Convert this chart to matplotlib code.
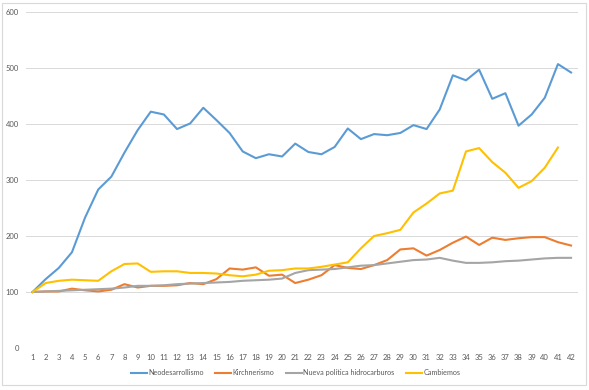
import matplotlib
matplotlib.use("Agg")
import matplotlib.pyplot as plt
from matplotlib.patches import Rectangle

periods = list(range(1, 43))

neodesarrollismo = [100, 123, 143, 171, 233, 283, 306, 349, 389, 422,
                    417, 391, 401, 429, 407, 384, 351, 339, 346, 342,
                    365, 350, 346, 359, 392, 373, 382, 380, 384, 398,
                    391, 426, 487, 478, 497, 445, 455, 397, 417, 447,
                    507, 492]
kirchnerismo = [100, 101, 101, 106, 103, 101, 104, 114, 108, 111,
                111, 112, 116, 114, 123, 142, 140, 144, 129, 131,
                116, 122, 130, 148, 143, 141, 148, 157, 176, 178,
                165, 175, 188, 199, 184, 197, 193, 196, 198, 198,
                189, 183]
hidrocarburos = [100, 101, 102, 103, 104, 105, 106, 108, 111, 111,
                 112, 114, 115, 116, 117, 118, 120, 121, 122, 124,
                 134, 139, 140, 141, 144, 147, 148, 151, 154, 157,
                 158, 161, 156, 152, 152, 153, 155, 156, 158, 160,
                 161, 161]
cambiemos = [100, 116, 120, 122, 121, 120, 137, 150, 151, 136,
             137, 137, 134, 134, 133, 130, 128, 131, 138, 139,
             142, 142, 145, 149, 153, 178, 200, 205, 211, 242,
             258, 276, 281, 351, 357, 332, 313, 286, 298, 322,
             358]

series_names = ["Neodesarrollismo", "Kirchnerismo",
                "Nueva política hidrocarburos", "Cambiemos"]
colors = ["#5B9BD5", "#ED7D31", "#A5A5A5", "#FFC000"]
y_ticks = [0, 100, 200, 300, 400, 500, 600]

plt.rcParams["font.family"] = ["Lato", "DejaVu Sans"]

fig = plt.figure(figsize=(5.89, 3.90), dpi=100)
ax = fig.add_axes([0.0441, 0.1077, 0.9366, 0.8615])

all_series = [neodesarrollismo, kirchnerismo, hidrocarburos, cambiemos]
for name, values, color in zip(series_names, all_series, colors):
    ax.plot(periods[:len(values)], values, color=color, lw=1.5,
            label=name, solid_joinstyle="round")

ax.set_xlim(0.5, 42.5)
ax.set_ylim(0, 600)
ax.set_yticks(y_ticks)
ax.set_xticks(periods)
ax.tick_params(axis="both", length=0, labelsize=5.5, labelcolor="#595959")
ax.tick_params(axis="x", pad=4)
ax.tick_params(axis="y", pad=5)
ax.grid(axis="y", color="#d9d9d9", lw=0.7)
ax.set_axisbelow(True)
for side in ax.spines.values():
    side.set_visible(False)

fig.legend(loc="center", bbox_to_anchor=(0.502, 0.044), ncol=4,
           frameon=False, fontsize=5.2, labelcolor="#595959",
           handlelength=2.2, handletextpad=0.2, columnspacing=1.6)

fig.patches.append(Rectangle((0.004, 0.012), 0.991, 0.98,
                             transform=fig.transFigure, fill=False,
                             edgecolor="#d9d9d9", lw=0.8))

fig.savefig("out.png", dpi=100)
